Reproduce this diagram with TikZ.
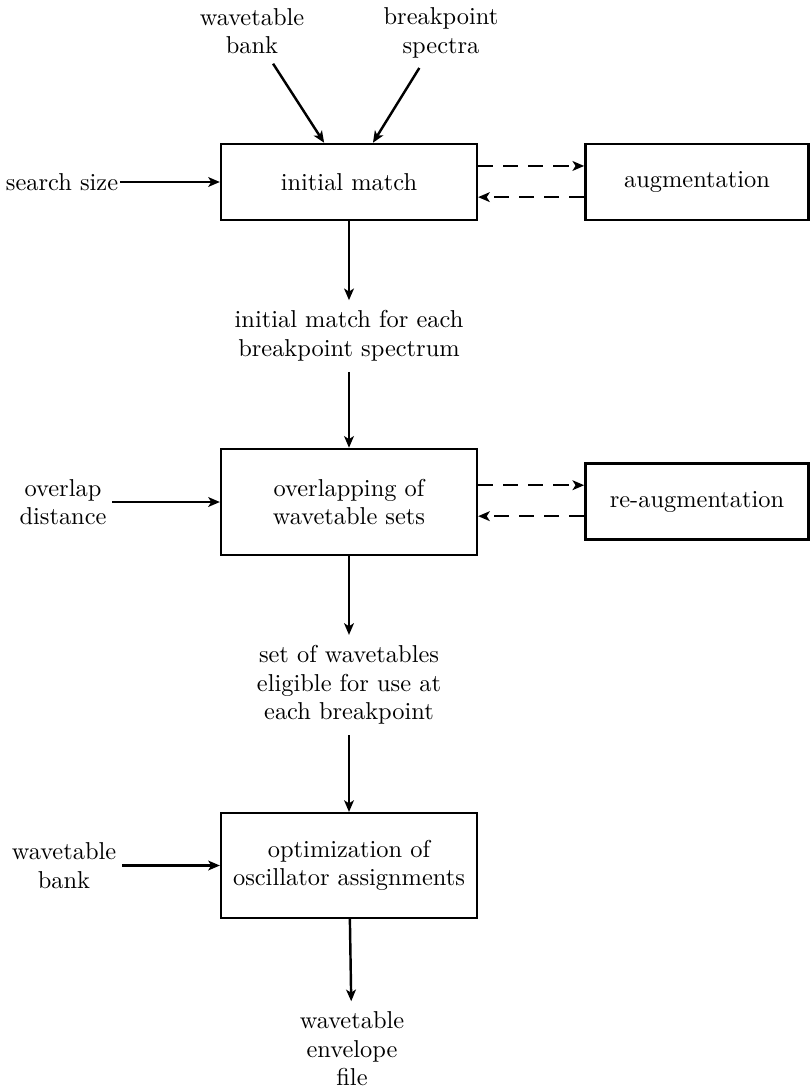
\documentclass[tikz,border=0pt]{standalone}
\usetikzlibrary{arrows.meta}

\begin{document}
\begin{tikzpicture}[x=0.43pt,y=-0.43pt,line width=1.05pt,
  font=\fontsize{10.5}{12.3}\selectfont,
  >={Stealth[length=5pt,width=4.2pt,inset=1.3pt]},
  procbox/.style={draw,minimum width=110pt,align=center},
  sidebox/.style={draw,minimum width=96pt,minimum height=32.5pt},
  lbl/.style={align=center,inner sep=2pt},
  midlbl/.style={align=center,inner sep=4pt},
  fb/.style={->,dash pattern=on 6.5pt off 4.3pt}]
  \useasboundingbox (0,0) rectangle (810,1090);
  % process boxes
  \node[procbox,minimum height=32.7pt] (match) at (349,182) {initial match};
  \node[procbox,minimum height=45.6pt] (overlap) at (349,502) {overlapping of\\wavetable sets};
  \node[procbox,minimum height=45pt] (optim) at (349,865.5) {optimization of\\oscillator assignments};
  \node[sidebox] (aug) at (697,182) {augmentation};
  \node[sidebox] (reaug) at (697,501.5) {re-augmentation};
  % inputs and outputs
  \node[lbl] (bankT) at (252,31) {wavetable\\bank};
  \node[lbl] (specT) at (441,33) {breakpoint\\spectra};
  \node[lbl,inner sep=0.5pt] (searchT) at (62,182) {search size};
  \node[lbl] (distT) at (63,502) {overlap\\distance};
  \node[lbl] (bankL) at (64,865.5) {wavetable\\bank};
  \node[midlbl] (firstT) at (349,336) {initial match for each\\breakpoint spectrum};
  \node[midlbl] (setT) at (349,685) {set of wavetables\\eligible for use at\\each breakpoint};
  \node[midlbl] (envT) at (352,1049) {wavetable\\envelope\\file};
  \coordinate (mA) at ([xshift=-10.7pt]match.north);
  \coordinate (mB) at ([xshift=10.3pt]match.north);
  % connectors
  \draw[->,shorten <=2pt] (bankT) -- (mA);
  \draw[->,shorten <=2pt] (specT) -- (mB);
  \draw[->] (searchT) -- (match);
  \draw[->] (match) -- (firstT);
  \draw[->] (firstT) -- (overlap);
  \draw[->] (distT) -- (overlap);
  \draw[->] (overlap) -- (setT);
  \draw[->] (setT) -- (optim);
  \draw[->] (bankL) -- (optim);
  \draw[->] (optim) -- (envT);
  % feedback loops
  \draw[fb] ([yshift=6.9pt]match.east) -- ([yshift=6.9pt]aug.west);
  \draw[fb] ([yshift=-6.5pt]aug.west) -- ([yshift=-6.5pt]match.east);
  \draw[fb] ([yshift=7pt]reaug.west -| overlap.east) -- ([yshift=7pt]reaug.west);
  \draw[fb] ([yshift=-6.3pt]reaug.west) -- ([yshift=-6.3pt]reaug.west -| overlap.east);
\end{tikzpicture}
\end{document}
